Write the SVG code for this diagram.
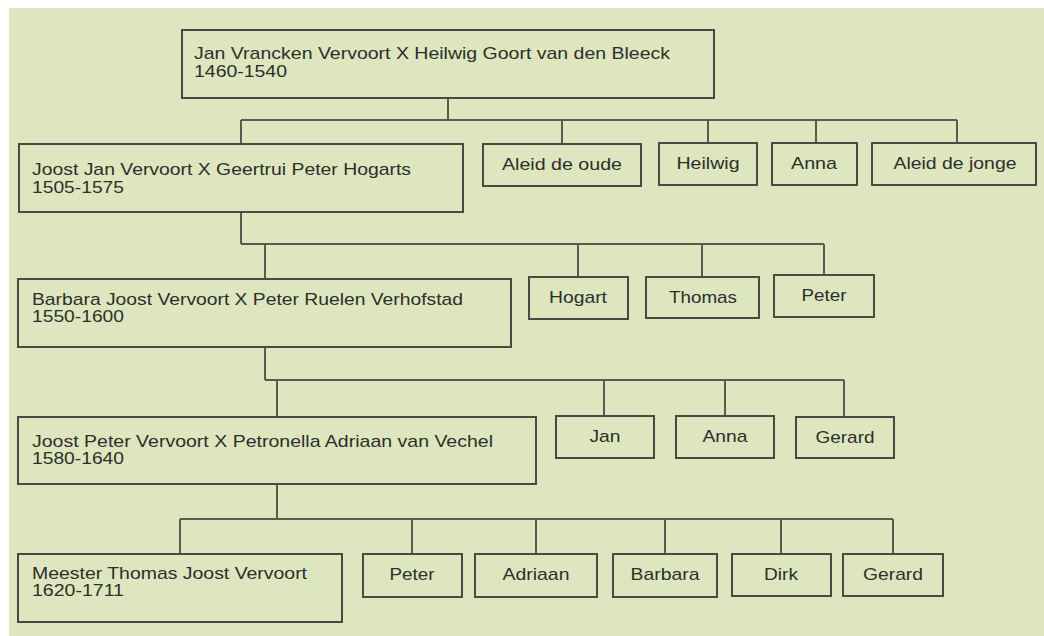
<svg xmlns="http://www.w3.org/2000/svg" width="1044" height="636" viewBox="0 0 1044 636">
<style>
.bg{fill:#dde6bf}
.box{fill:#dde6bf;stroke:#4a4a44;stroke-width:2}
.t{font-family:"Liberation Sans",Arial,sans-serif;font-size:17px;fill:#2e2e2a}
.c{text-anchor:middle}
.con{fill:none;stroke:#5a5a52;stroke-width:2}
</style>
<rect x="0" y="0" width="1044" height="636" fill="#ffffff"/>
<rect class="bg" x="9" y="8" width="1035" height="628"/>
<g id="connectors">
<path class="con" d="M448 98V120M241 120H957M241 120V144M562 120V144M708 120V143M816 120V143M957 120V143"/>
<path class="con" d="M241 212V244M241 244H824M265 244V279M578 244V277M702 244V277M824 244V275"/>
<path class="con" d="M265 347V380M265 380H844M277 380V417M604 380V416M725 380V416M844 380V417"/>
<path class="con" d="M277 484V519M180 519H893M180 519V554M412 519V554M536 519V554M665 519V554M781 519V554M893 519V554"/>
</g>
<g id="n1"><rect class="box" x="182" y="30" width="532" height="68"/><text class="t" x="194" y="59" textLength="476" lengthAdjust="spacingAndGlyphs">Jan Vrancken Vervoort X Heilwig Goort van den Bleeck</text><text class="t" x="194" y="77" textLength="93" lengthAdjust="spacingAndGlyphs">1460-1540</text></g>
<g id="n2"><rect class="box" x="19" y="144" width="444" height="68"/><text class="t" x="32" y="175" textLength="379" lengthAdjust="spacingAndGlyphs">Joost Jan Vervoort X Geertrui Peter Hogarts</text><text class="t" x="32" y="193" textLength="92" lengthAdjust="spacingAndGlyphs">1505-1575</text></g>
<g id="n3"><rect class="box" x="483" y="144" width="158" height="42"/><text class="t c" x="562" y="170" textLength="120" lengthAdjust="spacingAndGlyphs">Aleid de oude</text></g>
<g id="n4"><rect class="box" x="659" y="143" width="98" height="42"/><text class="t c" x="708" y="169" textLength="63" lengthAdjust="spacingAndGlyphs">Heilwig</text></g>
<g id="n5"><rect class="box" x="772" y="143" width="85" height="42"/><text class="t c" x="814" y="169" textLength="46" lengthAdjust="spacingAndGlyphs">Anna</text></g>
<g id="n6"><rect class="box" x="872" y="143" width="164" height="42"/><text class="t c" x="955" y="169" textLength="123" lengthAdjust="spacingAndGlyphs">Aleid de jonge</text></g>
<g id="n7"><rect class="box" x="18" y="279" width="493" height="68"/><text class="t" x="32" y="305" textLength="431" lengthAdjust="spacingAndGlyphs">Barbara Joost Vervoort X Peter Ruelen Verhofstad</text><text class="t" x="32" y="322" textLength="92" lengthAdjust="spacingAndGlyphs">1550-1600</text></g>
<g id="n8"><rect class="box" x="529" y="277" width="99" height="42"/><text class="t c" x="578" y="303" textLength="58" lengthAdjust="spacingAndGlyphs">Hogart</text></g>
<g id="n9"><rect class="box" x="646" y="277" width="113" height="41"/><text class="t c" x="703" y="303" textLength="68" lengthAdjust="spacingAndGlyphs">Thomas</text></g>
<g id="n10"><rect class="box" x="774" y="275" width="100" height="42"/><text class="t c" x="824" y="301" textLength="45" lengthAdjust="spacingAndGlyphs">Peter</text></g>
<g id="n11"><rect class="box" x="18" y="417" width="518" height="67"/><text class="t" x="32" y="447" textLength="461" lengthAdjust="spacingAndGlyphs">Joost Peter Vervoort X Petronella Adriaan van Vechel</text><text class="t" x="32" y="464" textLength="92" lengthAdjust="spacingAndGlyphs">1580-1640</text></g>
<g id="n12"><rect class="box" x="556" y="416" width="98" height="42"/><text class="t c" x="605" y="442" textLength="31" lengthAdjust="spacingAndGlyphs">Jan</text></g>
<g id="n13"><rect class="box" x="676" y="416" width="98" height="42"/><text class="t c" x="725" y="442" textLength="45" lengthAdjust="spacingAndGlyphs">Anna</text></g>
<g id="n14"><rect class="box" x="796" y="417" width="98" height="41"/><text class="t c" x="845" y="443" textLength="59" lengthAdjust="spacingAndGlyphs">Gerard</text></g>
<g id="n15"><rect class="box" x="18" y="554" width="324" height="68"/><text class="t" x="32" y="579" textLength="275" lengthAdjust="spacingAndGlyphs">Meester Thomas Joost Vervoort</text><text class="t" x="32" y="596" textLength="92" lengthAdjust="spacingAndGlyphs">1620-1711</text></g>
<g id="n16"><rect class="box" x="363" y="554" width="99" height="43"/><text class="t c" x="412" y="580" textLength="45" lengthAdjust="spacingAndGlyphs">Peter</text></g>
<g id="n17"><rect class="box" x="475" y="554" width="122" height="43"/><text class="t c" x="536" y="580" textLength="67" lengthAdjust="spacingAndGlyphs">Adriaan</text></g>
<g id="n18"><rect class="box" x="613" y="554" width="104" height="43"/><text class="t c" x="665" y="580" textLength="69" lengthAdjust="spacingAndGlyphs">Barbara</text></g>
<g id="n19"><rect class="box" x="732" y="554" width="99" height="42"/><text class="t c" x="781" y="580" textLength="34" lengthAdjust="spacingAndGlyphs">Dirk</text></g>
<g id="n20"><rect class="box" x="843" y="554" width="100" height="42"/><text class="t c" x="893" y="580" textLength="60" lengthAdjust="spacingAndGlyphs">Gerard</text></g>
</svg>
